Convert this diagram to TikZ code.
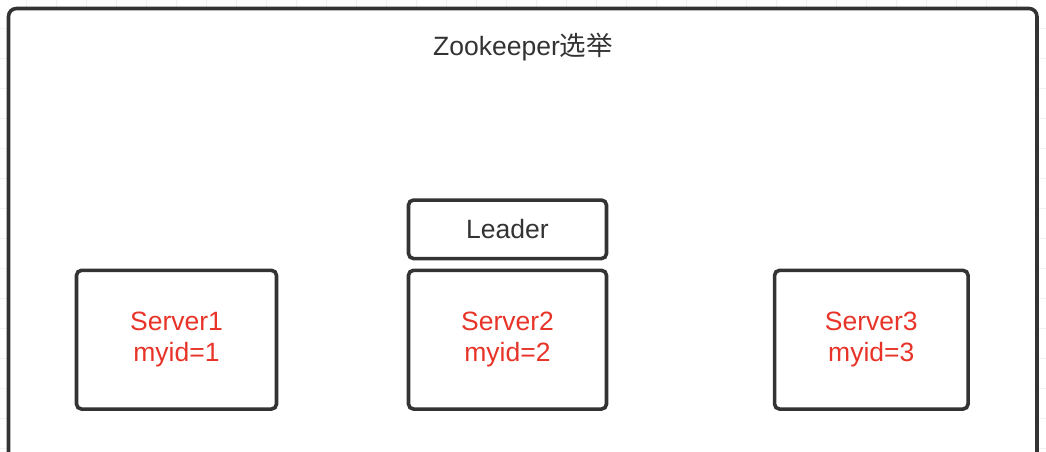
\documentclass[tikz,border=0pt]{standalone}
\usepackage{fontspec}
\setmainfont{Liberation Sans}
\newfontfamily\cjk{Noto Sans CJK SC}
\usetikzlibrary{positioning}

\definecolor{inkgray}{RGB}{51,51,51}
\definecolor{idred}{RGB}{232,52,40}
\definecolor{gridgray}{RGB}{242,242,242}

\tikzset{
    gridline/.style={draw=gridgray, line width=1pt},
    frame/.style={draw=inkgray, line width=3.6pt, fill=white, rounded corners=8pt},
    box/.style={draw=inkgray, line width=3.6pt, fill=white, rounded corners=5pt, inner sep=0pt, align=center},
    srvbox/.style={box, text=idred, minimum height=138.7pt},
    txt/.style={font=\fontsize{26.5}{31}\selectfont}
}

\begin{document}
\begin{tikzpicture}[x=1pt, y=-1pt, every node/.style={txt}]
        \useasboundingbox (0,0) rectangle (1046,451);
        \clip (0,0) rectangle (1046,451);
        
        \foreach \gx in {26,56,...,1046} \draw[gridline] (\gx,0) -- (\gx,451);
        \foreach \gy in {28,58,...,451} \draw[gridline] (0,\gy) -- (1046,\gy);
        
        \draw[frame] (8.5,8.5) rectangle (1037,520);
        \node[text=inkgray] (title) at (523,47.5) {Zookeeper{\cjk 选举}};
        
        \node[box, text=inkgray, minimum width=198pt, minimum height=58.5pt] (leader) at (507.5,229.3) {Leader};
        
        \node[srvbox, minimum width=200pt] (server1) at (176.5,339.7) {Server1\\myid=1};
        \node[srvbox, minimum width=198pt] (server2) at (507.5,339.7) {Server2\\myid=2};
        \node[srvbox, minimum width=193.5pt] (server3) at (871.3,339.7) {Server3\\myid=3};
        
    \end{tikzpicture}
\end{document}
